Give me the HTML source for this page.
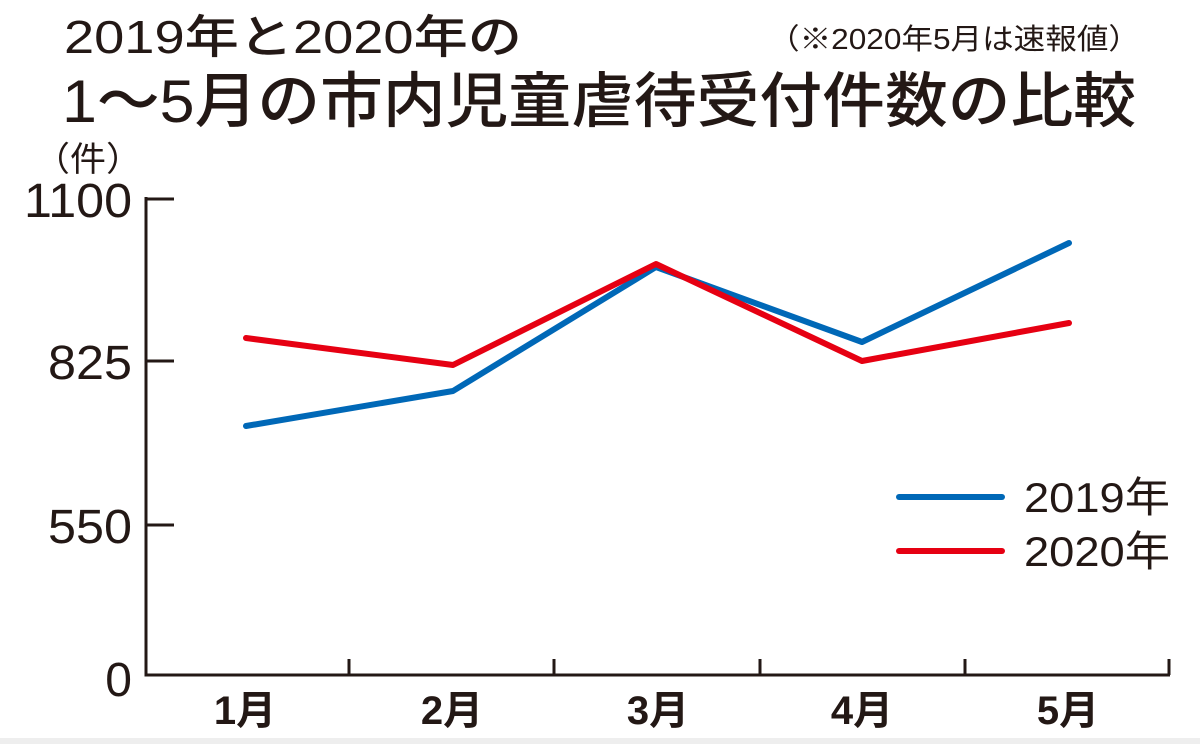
<!DOCTYPE html>
<html><head><meta charset="utf-8"><style>
html,body{margin:0;padding:0;background:#fff;}
svg{display:block;}
text{font-family:"Liberation Sans","Noto Sans CJK JP",sans-serif;fill:#231815;}
</style></head><body>
<svg width="1200" height="744" viewBox="0 0 1200 744" xmlns="http://www.w3.org/2000/svg">
<rect x="0" y="0" width="1200" height="744" fill="#fff"/>
<rect x="0" y="738" width="1200" height="6" fill="#eeeeee"/>
<text x="64" y="53" font-size="46" font-weight="500" textLength="458" lengthAdjust="spacingAndGlyphs">2019年と2020年の</text>
<text x="768" y="49" font-size="29" textLength="372" lengthAdjust="spacingAndGlyphs">（※2020年5月は速報値）</text>
<text x="62" y="122" font-size="60" font-weight="500" textLength="1074" lengthAdjust="spacingAndGlyphs">1～5月の市内児童虐待受付件数の比較</text>
<text x="34" y="171" font-size="34" textLength="108" lengthAdjust="spacingAndGlyphs">（件）</text>
<g stroke="#231815" stroke-width="3" fill="none">
<polyline points="146,197 146,675 1170,675"/>
<line x1="146" y1="199" x2="174" y2="199"/>
<line x1="146" y1="361" x2="174" y2="361"/>
<line x1="146" y1="525" x2="174" y2="525"/>
<line x1="349" y1="675" x2="349" y2="659"/>
<line x1="554" y1="675" x2="554" y2="659"/>
<line x1="760" y1="675" x2="760" y2="659"/>
<line x1="965" y1="675" x2="965" y2="659"/>
<line x1="1169" y1="675" x2="1169" y2="659"/>
</g>
<g font-size="48" text-anchor="end">
<text x="132" y="217" textLength="108" lengthAdjust="spacingAndGlyphs">1100</text>
<text x="132" y="379" textLength="84" lengthAdjust="spacingAndGlyphs">825</text>
<text x="132" y="543" textLength="84" lengthAdjust="spacingAndGlyphs">550</text>
<text x="132" y="696">0</text>
</g>
<g font-size="40" font-weight="bold" text-anchor="middle">
<text x="245" y="724">1月</text>
<text x="452" y="724">2月</text>
<text x="658" y="724">3月</text>
<text x="862" y="724">4月</text>
<text x="1068" y="724">5月</text>
</g>
<g fill="none" stroke-width="6" stroke-linecap="round" stroke-linejoin="round">
<polyline stroke="#0068b7" points="246,426 453,391 656,267 862,342 1069,243"/>
<polyline stroke="#e60012" points="246,338 453,365 656,264 862,361 1069,323"/>
<line stroke="#0068b7" x1="899" y1="497" x2="1002" y2="497"/>
<line stroke="#e60012" x1="899" y1="551" x2="1002" y2="551"/>
</g>
<text x="1024" y="512" font-size="42" textLength="146" lengthAdjust="spacingAndGlyphs">2019年</text>
<text x="1024" y="566" font-size="42" textLength="146" lengthAdjust="spacingAndGlyphs">2020年</text>
</svg>
</body></html>
